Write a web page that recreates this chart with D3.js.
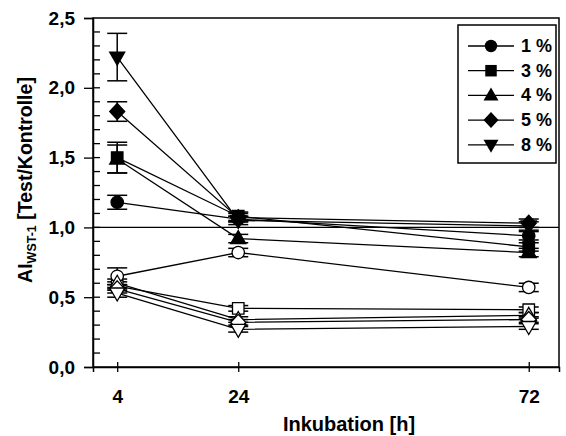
<!DOCTYPE html>
<html><head><meta charset="utf-8">
<script src="https://cdn.jsdelivr.net/npm/d3@7"></script>
<style>body{margin:0;background:#fff}svg{display:block}text{font-family:"Liberation Sans",Arial,sans-serif;font-weight:bold}</style>
</head><body>
<svg id="c" width="566" height="436"></svg>
<script>
const hours = [4, 24, 72];
const labels = ["1 %", "3 %", "4 %", "5 %", "8 %"];
const symbols = ["circle", "square", "triangle", "diamond", "triangleDown"];
const filledValues = [
  [1.18, 1.06, 0.94],
  [1.50, 1.08, 0.86],
  [1.49, 0.92, 0.82],
  [1.83, 1.07, 1.03],
  [2.22, 1.05, 1.01]
];
const filledErrors = [
  [0.05, 0.02, 0.03],
  [0.11, 0.03, 0.03],
  [0.10, 0.03, 0.03],
  [0.07, 0.03, 0.03],
  [0.17, 0.03, 0.03]
];
const openValues = [
  [0.65, 0.82, 0.57],
  [0.58, 0.42, 0.41],
  [0.60, 0.34, 0.37],
  [0.56, 0.32, 0.34],
  [0.53, 0.27, 0.29]
];
const openErrors = [
  [0.06, 0.03, 0.03],
  [0.03, 0.02, 0.02],
  [0.03, 0.02, 0.02],
  [0.03, 0.02, 0.02],
  [0.03, 0.02, 0.02]
];
const yTickLabels = ["0,0", "0,5", "1,0", "1,5", "2,0", "2,5"];
const yTicks = [0, 0.5, 1.0, 1.5, 2.0, 2.5];
const yMinor = d3.range(1, 25).map(i => i / 10);

const svg = d3.select("#c");
const L = 93, R = 559, T = 18, B = 367;
const x = d3.scaleLinear().domain([0, 77]).range([L, R]);
const y = d3.scaleLinear().domain([0, 2.5]).range([B, T]);
const FONT = "Liberation Sans, Arial, sans-serif";

function symPath(name) {
  if (name === "circle") return d3.symbol(d3.symbolCircle, Math.PI * 6.2 * 6.2)();
  if (name === "square") return d3.symbol(d3.symbolSquare, 11.5 * 11.5)();
  if (name === "triangle") return "M0,-8L7.5,5L-7.5,5Z";
  if (name === "triangleDown") return "M0,8L7.5,-5L-7.5,-5Z";
  if (name === "diamond") return "M0,-8L7.5,0L0,8L-7.5,0Z";
}

// frame
svg.append("rect").attr("x", L).attr("y", T).attr("width", R - L).attr("height", B - T)
  .attr("fill", "none").attr("stroke", "#000").attr("stroke-width", 1.5);

// reference line at 1.0
svg.append("line").attr("x1", L).attr("x2", R).attr("y1", y(1)).attr("y2", y(1))
  .attr("stroke", "#000").attr("stroke-width", 1.3);

// y axis
const yAxis = svg.append("g").attr("transform", `translate(${L},0)`)
  .call(d3.axisLeft(y).tickValues(yTicks).tickFormat((d, i) => yTickLabels[i]).tickSize(9).tickPadding(9));
yAxis.select(".domain").attr("stroke-width", 1.5);
yAxis.selectAll(".tick line").attr("stroke-width", 1.3);
yAxis.selectAll("text").attr("font-size", 19).attr("font-weight", "bold").attr("font-family", FONT);
// inward ticks
svg.append("g").selectAll("line").data(yMinor).join("line")
  .attr("x1", L).attr("x2", L + 7).attr("y1", d => y(d)).attr("y2", d => y(d))
  .attr("stroke", "#000").attr("stroke-width", 1.3);

// x axis
const xAxis = svg.append("g").attr("transform", `translate(0,${B})`)
  .call(d3.axisBottom(x).tickValues(hours).tickFormat(d => d).tickSize(5).tickPadding(18));
xAxis.select(".domain").attr("stroke-width", 1.5);
xAxis.selectAll(".tick line").attr("y1", -5).attr("stroke-width", 1.3);
xAxis.selectAll("text").attr("font-size", 19).attr("font-weight", "bold").attr("font-family", FONT);

// axis titles
svg.append("text").attr("x", 349).attr("y", 431).attr("text-anchor", "middle").attr("font-size", 20).text("Inkubation [h]");
const yl = svg.append("text").attr("transform", "translate(32,180) rotate(-90)").attr("text-anchor", "middle").attr("font-size", 19.5);
yl.append("tspan").text("AI");
yl.append("tspan").attr("font-size", 12.5).attr("dy", 4).text("WST-1");
yl.append("tspan").attr("dy", -4).text(" [Test/Kontrolle]");

const line = d3.line().x((d, i) => x(hours[i])).y(d => y(d));

function drawSeries(values, errors, fill) {
  const g = svg.append("g");
  values.forEach(vals => {
    g.append("path").attr("d", line(vals)).attr("fill", "none").attr("stroke", "#000").attr("stroke-width", 1.3);
  });
  values.forEach((vals, s) => {
    vals.forEach((v, i) => {
      const e = errors[s][i];
      const cx = x(hours[i]);
      const eg = g.append("g").attr("stroke", "#000").attr("stroke-width", 1.5);
      eg.append("line").attr("x1", cx).attr("x2", cx).attr("y1", y(v - e)).attr("y2", y(v + e));
      eg.append("line").attr("x1", cx - 10).attr("x2", cx + 10).attr("y1", y(v - e)).attr("y2", y(v - e));
      eg.append("line").attr("x1", cx - 10).attr("x2", cx + 10).attr("y1", y(v + e)).attr("y2", y(v + e));
    });
  });
  values.forEach((vals, s) => {
    vals.forEach((v, i) => {
      g.append("path").attr("d", symPath(symbols[s]))
        .attr("transform", `translate(${x(hours[i])},${y(v)})`)
        .attr("fill", fill ? "#000" : "#fff").attr("stroke", "#000").attr("stroke-width", 1.3);
    });
  });
}
drawSeries(openValues, openErrors, false);
drawSeries(filledValues, filledErrors, true);

// legend
const lg = svg.append("g");
lg.append("rect").attr("x", 458).attr("y", 25).attr("width", 98).attr("height", 138)
  .attr("fill", "#fff").attr("stroke", "#000").attr("stroke-width", 1.5);
labels.forEach((lab, i) => {
  const ly = 46 + i * 24.7;
  lg.append("line").attr("x1", 468).attr("x2", 514).attr("y1", ly).attr("y2", ly).attr("stroke", "#000").attr("stroke-width", 1.3);
  lg.append("path").attr("d", symPath(symbols[i])).attr("transform", `translate(491,${ly})`).attr("fill", "#000");
  lg.append("text").attr("x", 521).attr("y", ly + 6).attr("font-size", 18).text(lab);
});
</script>
</body></html>
